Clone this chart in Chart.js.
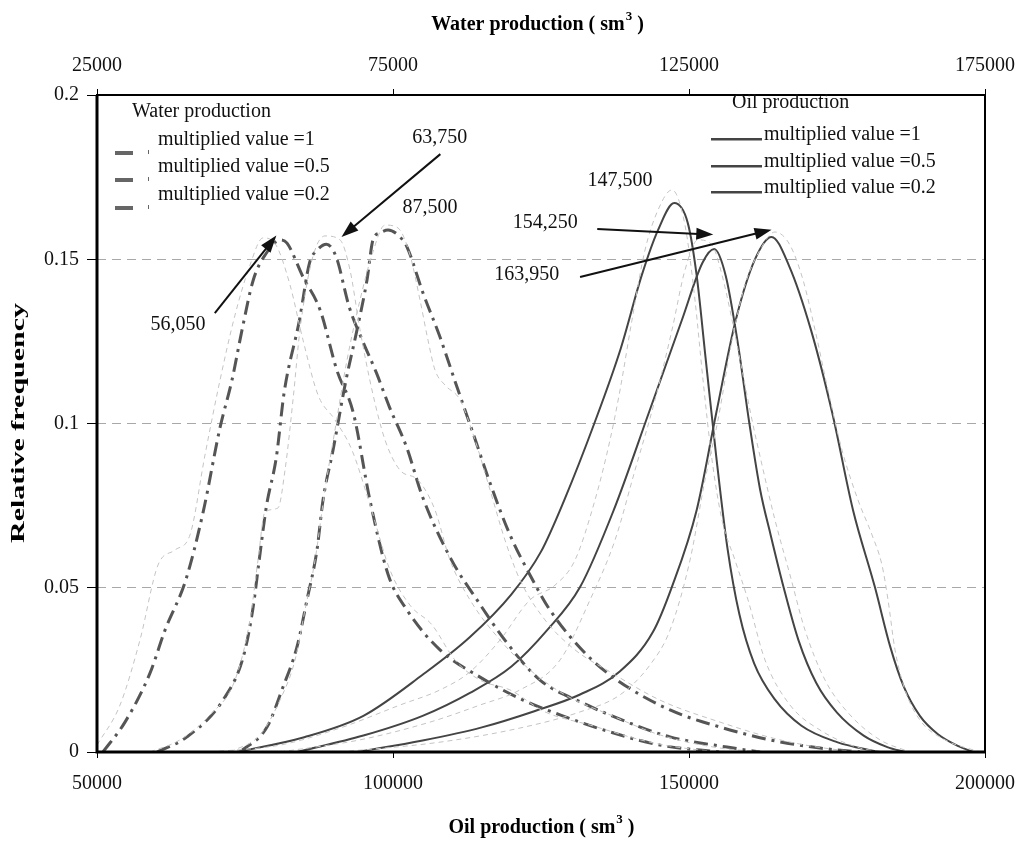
<!DOCTYPE html>
<html>
<head>
<meta charset="utf-8">
<title>Relative frequency of oil and water production</title>
<script src="https://cdn.jsdelivr.net/npm/chart.js@4.4.1/dist/chart.umd.min.js"></script>
<style>
  html, body { margin: 0; padding: 0; background: #fff; }
  #wrap { width: 1025px; height: 843px; }
</style>
</head>
<body>
<div id="wrap"><canvas id="chart" width="1025" height="843"></canvas></div>
<script>
// Oil production curves (bottom axis, sm3) - smoothed distributions
const oilX1 = [73600, 85000, 95000, 105000, 113000, 120000, 125000, 129000, 134000, 138500, 142000, 144800, 147500, 149800, 151300, 152800, 154600, 156500, 158500, 161000, 164500, 169000, 175000, 182000];
const oilY1 = [0, 0.0045, 0.0110, 0.0235, 0.0350, 0.0480, 0.0610, 0.0770, 0.1000, 0.1230, 0.1450, 0.1590, 0.1671, 0.1610, 0.1450, 0.1200, 0.0900, 0.0620, 0.0420, 0.0270, 0.0160, 0.0080, 0.0030, 0];
const oilX2 = [83780, 95000, 105000, 113000, 120000, 126000, 131600, 137300, 143200, 148800, 152300, 154250, 156200, 158200, 160200, 162000, 163800, 166000, 168500, 171500, 175000, 179500, 183500, 186500];
const oilY2 = [0, 0.0050, 0.0110, 0.0180, 0.0260, 0.0370, 0.0502, 0.0737, 0.1032, 0.1315, 0.1490, 0.1531, 0.1450, 0.1250, 0.1000, 0.0800, 0.0660, 0.0500, 0.0340, 0.0210, 0.0120, 0.0050, 0.0015, 0];
const oilX3 = [93920, 105000, 115000, 124000, 131600, 138300, 143900, 147100, 151300, 154600, 157900, 161100, 163950, 166900, 170600, 174200, 177700, 181400, 184000, 186300, 189000, 192000, 195500, 198000];
const oilY3 = [0, 0.0035, 0.0075, 0.0125, 0.0175, 0.0245, 0.0365, 0.0502, 0.0737, 0.1032, 0.1315, 0.1498, 0.1568, 0.1480, 0.1285, 0.1032, 0.0737, 0.0502, 0.0320, 0.0198, 0.0110, 0.0055, 0.0018, 0];

// Water production curves (top axis, sm3)
const watX1 = [26010, 29730, 33950, 36490, 40000, 42900, 45800, 47800, 49500, 51400, 53400, 56050, 57100, 59800, 62700, 65500, 68300, 71100, 74200, 77370, 82940, 89700, 96960, 103210, 111660, 120100, 130240];
const watY1 = [0, 0.0091, 0.0240, 0.0371, 0.0524, 0.0728, 0.0989, 0.1132, 0.1285, 0.1437, 0.1513, 0.1559, 0.1549, 0.1446, 0.1345, 0.1163, 0.1032, 0.0767, 0.0539, 0.0432, 0.0311, 0.0228, 0.0158, 0.0113, 0.0061, 0.0021, 0];
const watX2 = [35140, 40200, 46280, 49700, 51300, 52400, 53600, 55300, 56600, 59200, 60900, 62200, 63750, 65400, 67600, 69800, 72200, 74400, 77300, 80000, 84900, 89190, 94260, 99830, 107090, 115030, 121790, 131420, 137000];
const watY2 = [0, 0.0046, 0.0158, 0.0289, 0.0432, 0.0584, 0.0746, 0.0898, 0.1093, 0.1315, 0.1489, 0.1528, 0.1546, 0.1507, 0.1355, 0.1254, 0.1154, 0.1050, 0.0928, 0.0776, 0.0584, 0.0463, 0.0332, 0.0219, 0.0149, 0.0088, 0.0046, 0.0015, 0];
const watX3 = [49160, 53720, 56420, 58780, 60470, 62160, 63180, 64870, 67060, 68920, 70610, 71620, 72800, 74160, 76180, 77370, 80070, 82940, 85810, 88510, 91390, 94760, 98140, 101520, 107770, 112840, 121790, 130240, 138680, 147130, 153890];
const watY3 = [0, 0.0076, 0.0198, 0.0320, 0.0463, 0.0615, 0.0767, 0.0919, 0.1132, 0.1285, 0.1437, 0.1559, 0.1580, 0.1589, 0.1568, 0.1537, 0.1397, 0.1263, 0.1111, 0.0971, 0.0819, 0.0661, 0.0539, 0.0432, 0.0295, 0.0219, 0.0128, 0.0076, 0.0037, 0.0012, 0];

// Raw frequency traces behind the smoothed curves
const rawOilX1 = [69090, 80910, 91050, 101180, 107940, 113010, 118080, 123140, 127370, 130740, 134120, 136660, 138350, 140370, 142570, 144770, 147130, 149320, 151010, 152370, 153890, 155580, 157770, 159970, 162840, 167060, 172130, 178890, 183950];
const rawOilY1 = [0, 0.0021, 0.0073, 0.0143, 0.0189, 0.0244, 0.0341, 0.0463, 0.0508, 0.0584, 0.0767, 0.0950, 0.1102, 0.1315, 0.1528, 0.1650, 0.1711, 0.1604, 0.1376, 0.1132, 0.0889, 0.0706, 0.0584, 0.0463, 0.0280, 0.0143, 0.0067, 0.0012, 0];
const rawOilX2 = [80910, 94430, 106250, 114700, 121450, 128210, 133280, 137500, 140880, 144260, 147130, 149320, 151520, 153890, 155580, 157270, 158960, 160640, 162330, 164530, 167060, 169600, 172980, 177200, 182260, 187330];
const rawOilY2 = [0, 0.0037, 0.0091, 0.0143, 0.0189, 0.0280, 0.0463, 0.0645, 0.0858, 0.1072, 0.1285, 0.1467, 0.1559, 0.1543, 0.1452, 0.1315, 0.1163, 0.1011, 0.0874, 0.0706, 0.0539, 0.0371, 0.0219, 0.0113, 0.0037, 0];
const rawOilX3 = [91050, 107940, 121450, 131590, 138350, 143410, 146790, 150170, 152700, 154900, 157270, 159460, 161990, 164530, 167060, 169260, 171290, 173480, 175850, 178550, 180910, 182600, 183620, 184800, 186490, 189020, 193250, 199160];
const rawOilY3 = [0, 0.0030, 0.0073, 0.0122, 0.0174, 0.0265, 0.0371, 0.0584, 0.0828, 0.1011, 0.1254, 0.1422, 0.1528, 0.1583, 0.1543, 0.1437, 0.1285, 0.1102, 0.0919, 0.0767, 0.0661, 0.0569, 0.0463, 0.0311, 0.0189, 0.0097, 0.0037, 0];
const rawWatX1 = [25000, 28890, 32260, 35300, 38180, 40710, 43240, 45780, 48310, 50840, 53040, 55240, 57600, 59800, 62330, 65200, 68070, 71120, 74490, 77870, 81590, 85470, 89700, 94760, 100680, 108280, 118410, 126860, 133620];
const rawWatY1 = [0.0021, 0.0143, 0.0341, 0.0569, 0.0615, 0.0661, 0.0904, 0.1132, 0.1330, 0.1482, 0.1565, 0.1543, 0.1422, 0.1254, 0.1087, 0.1011, 0.0919, 0.0752, 0.0554, 0.0447, 0.0387, 0.0280, 0.0219, 0.0189, 0.0122, 0.0082, 0.0030, 0.0006, 0];
const rawWatX2 = [33950, 39020, 44090, 48310, 50840, 52200, 53380, 55570, 56760, 58110, 59290, 61320, 63510, 66050, 67740, 69430, 71450, 73650, 76180, 79220, 82090, 84630, 88010, 93080, 98140, 104050, 111660, 120100, 130240, 138680];
const rawWatY2 = [0, 0.0037, 0.0113, 0.0219, 0.0402, 0.0584, 0.0731, 0.0743, 0.0858, 0.1072, 0.1285, 0.1498, 0.1571, 0.1559, 0.1467, 0.1285, 0.1102, 0.0950, 0.0858, 0.0828, 0.0737, 0.0584, 0.0463, 0.0341, 0.0250, 0.0174, 0.0113, 0.0052, 0.0012, 0];
const rawWatX3 = [47470, 52530, 55910, 58450, 60130, 61830, 63510, 65200, 67230, 69430, 71450, 73650, 75850, 77870, 79560, 80910, 82090, 83780, 86320, 88850, 91390, 93920, 96450, 100680, 105740, 111660, 120100, 130240, 140370, 150500, 157260];
const rawWatY3 = [0, 0.0052, 0.0158, 0.0280, 0.0432, 0.0584, 0.0798, 0.0980, 0.1193, 0.1376, 0.1513, 0.1604, 0.1595, 0.1513, 0.1376, 0.1254, 0.1163, 0.1117, 0.1072, 0.0950, 0.0798, 0.0645, 0.0524, 0.0402, 0.0311, 0.0244, 0.0158, 0.0091, 0.0037, 0.0006, 0];

const seriesLabels = ['multiplied value =1', 'multiplied value =0.5', 'multiplied value =0.2'];
const oilTicks = [50000, 100000, 150000, 200000];
const waterTicks = [25000, 75000, 125000, 175000];
const freqTicks = [0, 0.05, 0.1, 0.15, 0.2];

const serif = '"Liberation Serif", "Times New Roman", serif';

function pts(xs, ys) {
    return xs.map((x, i) => ({ x: x, y: ys[i] }));
}

function rawSet(xs, ys, axis) {
    return {
        data: pts(xs, ys), xAxisID: axis,
        borderColor: '#c4c4c4', borderWidth: 1, borderDash: [5, 4],
        pointRadius: 0, cubicInterpolationMode: 'monotone'
    };
}
function waterSet(xs, ys, label) {
    return {
        label: 'Water ' + label, data: pts(xs, ys), xAxisID: 'x2',
        borderColor: '#555', borderWidth: 3, borderDash: [14, 6, 3, 6],
        pointRadius: 0, cubicInterpolationMode: 'monotone'
    };
}
function oilSet(xs, ys, label) {
    return {
        label: 'Oil ' + label, data: pts(xs, ys), xAxisID: 'x',
        borderColor: '#444', borderWidth: 2,
        pointRadius: 0, cubicInterpolationMode: 'monotone'
    };
}

// value labels and arrows, placed in data units of the given x axis
const notes = [
    { text: '56,050', axis: 'x2', at: [38700, 0.1300], from: [44900, 0.1336], to: [55300, 0.1572] },
    { text: '63,750', axis: 'x2', at: [82900, 0.1870], from: [83000, 0.1820], to: [66300, 0.1568] },
    { text: '87,500', axis: 'x2', at: [81250, 0.1656] },
    { text: '147,500', axis: 'x', at: [138350, 0.1738] },
    { text: '154,250', axis: 'x', at: [125700, 0.1610], from: [134500, 0.1592], to: [154100, 0.1575] },
    { text: '163,950', axis: 'x', at: [122600, 0.1452], from: [131600, 0.1446], to: [163950, 0.1590] }
];

function drawArrow(ctx, x1, y1, x2, y2) {
    const a = Math.atan2(y2 - y1, x2 - x1);
    const len = 17, half = 6;
    const bx = x2 - len * Math.cos(a), by = y2 - len * Math.sin(a);
    ctx.beginPath();
    ctx.moveTo(x1, y1);
    ctx.lineTo(bx + 2 * Math.cos(a), by + 2 * Math.sin(a));
    ctx.stroke();
    ctx.beginPath();
    ctx.moveTo(x2, y2);
    ctx.lineTo(bx + half * Math.sin(a), by - half * Math.cos(a));
    ctx.lineTo(bx - half * Math.sin(a), by + half * Math.cos(a));
    ctx.closePath();
    ctx.fill();
}

// text with a raised small "3" for sm3
function drawUnitTitle(ctx, name, cx, cy) {
    ctx.font = 'bold 20px ' + serif;
    const a = name + ' ( sm', b = '3', c = ' )';
    const wa = ctx.measureText(a).width, wc = ctx.measureText(c).width;
    ctx.font = 'bold 13px ' + serif;
    const wb = ctx.measureText(b).width;
    let x = cx - (wa + wb + wc) / 2;
    ctx.textAlign = 'left';
    ctx.textBaseline = 'middle';
    ctx.font = 'bold 20px ' + serif;
    ctx.fillText(a, x, cy);
    ctx.font = 'bold 13px ' + serif;
    ctx.fillText(b, x + wa + 1, cy - 8);
    ctx.font = 'bold 20px ' + serif;
    ctx.fillText(c, x + wa + wb + 1, cy);
}

const decorations = {
    id: 'decorations',
    afterDatasetsDraw(chart) {
        const ctx = chart.ctx;
        const area = chart.chartArea;
        const y = chart.scales.y;
        ctx.save();

        // plot frame
        ctx.strokeStyle = '#000';
        ctx.lineWidth = 2;
        ctx.strokeRect(area.left, area.top, area.right - area.left, area.bottom - area.top);
        ctx.lineWidth = 3;
        ctx.beginPath();
        ctx.moveTo(area.left, area.top);
        ctx.lineTo(area.left, area.bottom);
        ctx.lineTo(area.right, area.bottom);
        ctx.stroke();

        // value labels and arrows
        ctx.fillStyle = '#111';
        ctx.strokeStyle = '#111';
        ctx.lineWidth = 2;
        ctx.font = '20px ' + serif;
        ctx.textAlign = 'center';
        ctx.textBaseline = 'middle';
        notes.forEach(n => {
            const sx = chart.scales[n.axis];
            ctx.fillText(n.text, sx.getPixelForValue(n.at[0]), y.getPixelForValue(n.at[1]));
            if (n.from) {
                drawArrow(ctx, sx.getPixelForValue(n.from[0]), y.getPixelForValue(n.from[1]),
                    sx.getPixelForValue(n.to[0]), y.getPixelForValue(n.to[1]));
            }
        });

        // water legend (top left)
        ctx.textAlign = 'left';
        ctx.fillText('Water production', 132, 112);
        seriesLabels.forEach((t, i) => {
            const ty = [140, 167, 195][i];
            ctx.fillStyle = '#111';
            ctx.fillText(t, 158, ty);
            ctx.fillStyle = '#666';
            ctx.fillRect(115, ty + 11, 18, 4);
            ctx.fillRect(148, ty + 10, 1, 4);
        });

        // oil legend (top right)
        ctx.fillStyle = '#111';
        ctx.fillText('Oil production', 732, 103);
        seriesLabels.forEach((t, i) => {
            const ty = [135, 162, 188][i];
            ctx.fillStyle = '#111';
            ctx.fillText(t, 764, ty);
            ctx.fillStyle = '#444';
            ctx.fillRect(711, ty + 3, 51, 2.5);
        });

        // axis titles
        ctx.fillStyle = '#000';
        drawUnitTitle(ctx, 'Water production', 537, 25);
        drawUnitTitle(ctx, 'Oil production', 541, 828);

        ctx.save();
        ctx.translate(19, 423);
        ctx.rotate(-Math.PI / 2);
        ctx.font = 'bold 18px ' + serif;
        const w = ctx.measureText('Relative frequency').width;
        ctx.scale(240 / w, 1);
        ctx.textAlign = 'center';
        ctx.textBaseline = 'middle';
        ctx.fillText('Relative frequency', 0, 0);
        ctx.restore();

        ctx.restore();
    }
};

const tickFont = { family: serif, size: 20 };

// keep the plot box fixed: no extra side padding for the end tick labels
function fitHorizontal(height) {
    return s => {
        s.height = height;
        s.paddingLeft = 0;
        s.paddingRight = 0;
    };
}

new Chart(document.getElementById('chart'), {
    type: 'line',
    data: {
        datasets: [
            rawSet(rawWatX1, rawWatY1, 'x2'),
            rawSet(rawWatX2, rawWatY2, 'x2'),
            rawSet(rawWatX3, rawWatY3, 'x2'),
            rawSet(rawOilX1, rawOilY1, 'x'),
            rawSet(rawOilX2, rawOilY2, 'x'),
            rawSet(rawOilX3, rawOilY3, 'x'),
            waterSet(watX1, watY1, seriesLabels[0]),
            waterSet(watX2, watY2, seriesLabels[1]),
            waterSet(watX3, watY3, seriesLabels[2]),
            oilSet(oilX1, oilY1, seriesLabels[0]),
            oilSet(oilX2, oilY2, seriesLabels[1]),
            oilSet(oilX3, oilY3, seriesLabels[2])
        ]
    },
    options: {
        responsive: false,
        animation: false,
        devicePixelRatio: 1,
        layout: { padding: { left: 0, right: 40, top: 0, bottom: 0 } },
        plugins: { legend: { display: false }, tooltip: { enabled: false } },
        scales: {
            x: {
                type: 'linear', position: 'bottom',
                min: oilTicks[0], max: oilTicks[oilTicks.length - 1],
                afterBuildTicks: s => { s.ticks = oilTicks.map(v => ({ value: v })); },
                afterFit: fitHorizontal(91),
                ticks: { font: tickFont, color: '#111', padding: 14, maxRotation: 0, callback: v => String(v) },
                grid: { drawOnChartArea: false, tickLength: 6, tickColor: '#000' },
                border: { display: false }
            },
            x2: {
                type: 'linear', position: 'top',
                min: waterTicks[0], max: waterTicks[waterTicks.length - 1],
                afterBuildTicks: s => { s.ticks = waterTicks.map(v => ({ value: v })); },
                afterFit: fitHorizontal(95),
                ticks: { font: tickFont, color: '#111', padding: 11, maxRotation: 0, callback: v => String(v) },
                grid: { drawOnChartArea: false, tickLength: 6, tickColor: '#000' },
                border: { display: false }
            },
            y: {
                min: 0, max: 0.2,
                afterBuildTicks: s => { s.ticks = freqTicks.map(v => ({ value: v })); },
                afterFit: s => { s.width = 97; },
                ticks: { font: tickFont, color: '#111', padding: 8, callback: v => String(+v.toFixed(2)) },
                grid: {
                    color: c => (c.tick && (c.tick.value === 0 || c.tick.value === 0.2)) ? 'rgba(0,0,0,0)' : '#a8a8a8',
                    lineWidth: 1, tickLength: 10, tickColor: '#000'
                },
                border: { display: false, dash: [9, 6] }
            }
        }
    },
    plugins: [decorations]
});
</script>
</body>
</html>
